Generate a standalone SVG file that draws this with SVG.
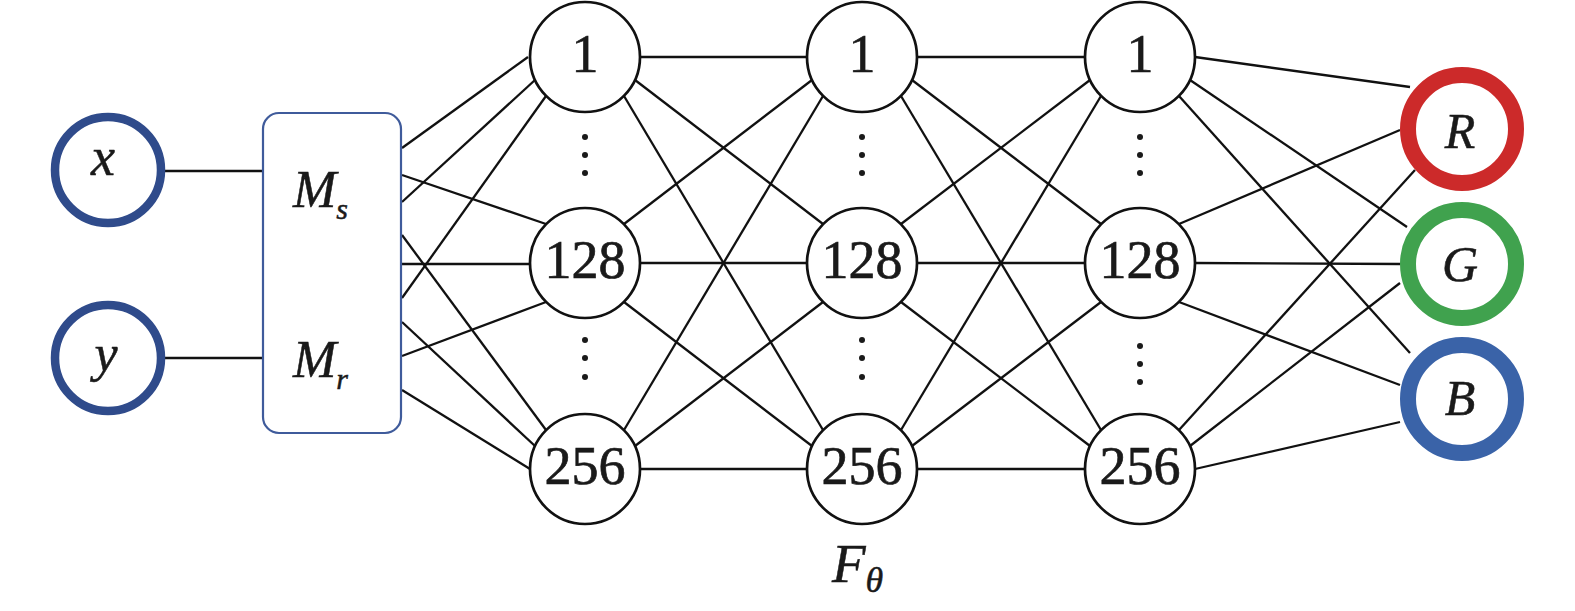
<svg xmlns="http://www.w3.org/2000/svg" width="1575" height="611" viewBox="0 0 1575 611">
<style>
.ln{stroke:#111;stroke-width:2.3;fill:none}
.hid{fill:#fff;stroke:#111;stroke-width:2.7}
.num{font-family:'Liberation Serif','Times New Roman',serif;font-size:54px;fill:#1a1a1a;stroke:#1a1a1a;stroke-width:0.7;text-anchor:middle}
.it{font-family:'Liberation Serif','Times New Roman',serif;font-style:italic;fill:#1a1a1a;stroke:#1a1a1a;stroke-width:0.5}
.inp{fill:#fff;stroke:#2f4b8b;stroke-width:8.5}
.dot{fill:#1a1a1a}
</style>
<rect width="1575" height="611" fill="#fff"/>
<g id="connectors" class="ln">
<line x1="165" y1="171" x2="263" y2="171"/>
<line x1="165" y1="358" x2="263" y2="358"/>
<line x1="402" y1="148" x2="528" y2="57"/>
<line x1="402" y1="202" x2="535" y2="80"/>
<line x1="402" y1="298" x2="546" y2="96"/>
<line x1="402" y1="175" x2="546" y2="224"/>
<line x1="402" y1="264" x2="530" y2="264"/>
<line x1="402" y1="356" x2="546" y2="302"/>
<line x1="402" y1="235" x2="546" y2="430"/>
<line x1="402" y1="322" x2="535" y2="446"/>
<line x1="402" y1="390" x2="530" y2="469"/>
<line x1="640" y1="57" x2="807" y2="57"/>
<line x1="635" y1="80" x2="823" y2="224"/>
<line x1="624" y1="96" x2="823" y2="430"/>
<line x1="624" y1="224" x2="812" y2="80"/>
<line x1="640" y1="263" x2="807" y2="263"/>
<line x1="624" y1="302" x2="812" y2="446"/>
<line x1="624" y1="430" x2="823" y2="96"/>
<line x1="635" y1="446" x2="823" y2="302"/>
<line x1="640" y1="469" x2="807" y2="469"/>
<line x1="917" y1="57" x2="1085" y2="57"/>
<line x1="912" y1="80" x2="1101" y2="224"/>
<line x1="901" y1="96" x2="1101" y2="430"/>
<line x1="901" y1="224" x2="1090" y2="80"/>
<line x1="917" y1="263" x2="1085" y2="263"/>
<line x1="901" y1="302" x2="1090" y2="446"/>
<line x1="901" y1="430" x2="1101" y2="96"/>
<line x1="912" y1="446" x2="1101" y2="302"/>
<line x1="917" y1="469" x2="1085" y2="469"/>
<line x1="1195" y1="57" x2="1410" y2="87"/>
<line x1="1190" y1="80" x2="1407" y2="227"/>
<line x1="1179" y1="96" x2="1410" y2="353"/>
<line x1="1179" y1="224" x2="1400" y2="130"/>
<line x1="1195" y1="263" x2="1400" y2="264"/>
<line x1="1179" y1="302" x2="1400" y2="385"/>
<line x1="1179" y1="430" x2="1415" y2="170"/>
<line x1="1190" y1="446" x2="1400" y2="283"/>
<line x1="1195" y1="469" x2="1400" y2="422"/>
</g>
<g id="in-x"><circle class="inp" cx="108" cy="170" r="53"/><text class="it" x="103" y="175" font-size="54" text-anchor="middle">x</text></g>
<g id="in-y"><circle class="inp" cx="108" cy="358" r="53"/><text class="it" x="106" y="371" font-size="52" text-anchor="middle">y</text></g>
<g id="mapping"><rect x="263" y="113" width="138" height="320" rx="16" fill="#fff" stroke="#3f5b9b" stroke-width="2.2"/>
<text class="it" x="293" y="207" font-size="52">M<tspan font-size="30" dy="12">s</tspan></text>
<text class="it" x="293" y="377" font-size="52">M<tspan font-size="30" dy="12">r</tspan></text></g>
<g id="h1-1"><circle class="hid" cx="585" cy="57" r="55"/><text class="num" x="585" y="72">1</text></g>
<g id="h1-128"><circle class="hid" cx="585" cy="263" r="55"/><text class="num" x="585" y="278">128</text></g>
<g id="h1-256"><circle class="hid" cx="585" cy="469" r="55"/><text class="num" x="585" y="484">256</text></g>
<g id="h2-1"><circle class="hid" cx="862" cy="57" r="55"/><text class="num" x="862" y="72">1</text></g>
<g id="h2-128"><circle class="hid" cx="862" cy="263" r="55"/><text class="num" x="862" y="278">128</text></g>
<g id="h2-256"><circle class="hid" cx="862" cy="469" r="55"/><text class="num" x="862" y="484">256</text></g>
<g id="h3-1"><circle class="hid" cx="1140" cy="57" r="55"/><text class="num" x="1140" y="72">1</text></g>
<g id="h3-128"><circle class="hid" cx="1140" cy="263" r="55"/><text class="num" x="1140" y="278">128</text></g>
<g id="h3-256"><circle class="hid" cx="1140" cy="469" r="55"/><text class="num" x="1140" y="484">256</text></g>
<g id="dots">
<circle class="dot" cx="585" cy="137" r="3"/><circle class="dot" cx="585" cy="155" r="3"/><circle class="dot" cx="585" cy="173" r="3"/>
<circle class="dot" cx="585" cy="340" r="3"/><circle class="dot" cx="585" cy="358" r="3"/><circle class="dot" cx="585" cy="377" r="3"/>
<circle class="dot" cx="862" cy="137" r="3"/><circle class="dot" cx="862" cy="155" r="3"/><circle class="dot" cx="862" cy="173" r="3"/>
<circle class="dot" cx="862" cy="340" r="3"/><circle class="dot" cx="862" cy="358" r="3"/><circle class="dot" cx="862" cy="377" r="3"/>
<circle class="dot" cx="1140" cy="137" r="3"/><circle class="dot" cx="1140" cy="155" r="3"/><circle class="dot" cx="1140" cy="173" r="3"/>
<circle class="dot" cx="1140" cy="346" r="3"/><circle class="dot" cx="1140" cy="364" r="3"/><circle class="dot" cx="1140" cy="382" r="3"/>
</g>
<g id="out-R"><circle cx="1462" cy="129" r="54" fill="#fff" stroke="#cc2a2a" stroke-width="16"/><text class="it" x="1460" y="148" font-size="50" text-anchor="middle">R</text></g>
<g id="out-G"><circle cx="1462" cy="264" r="54" fill="#fff" stroke="#40a24e" stroke-width="16"/><text class="it" x="1460" y="281" font-size="50" text-anchor="middle">G</text></g>
<g id="out-B"><circle cx="1462" cy="399" r="54" fill="#fff" stroke="#3a63a8" stroke-width="16"/><text class="it" x="1460" y="415" font-size="50" text-anchor="middle">B</text></g>
<g id="label-F"><text class="it" x="832" y="582" font-size="55">F<tspan font-size="36" dy="10">θ</tspan></text></g>
</svg>
